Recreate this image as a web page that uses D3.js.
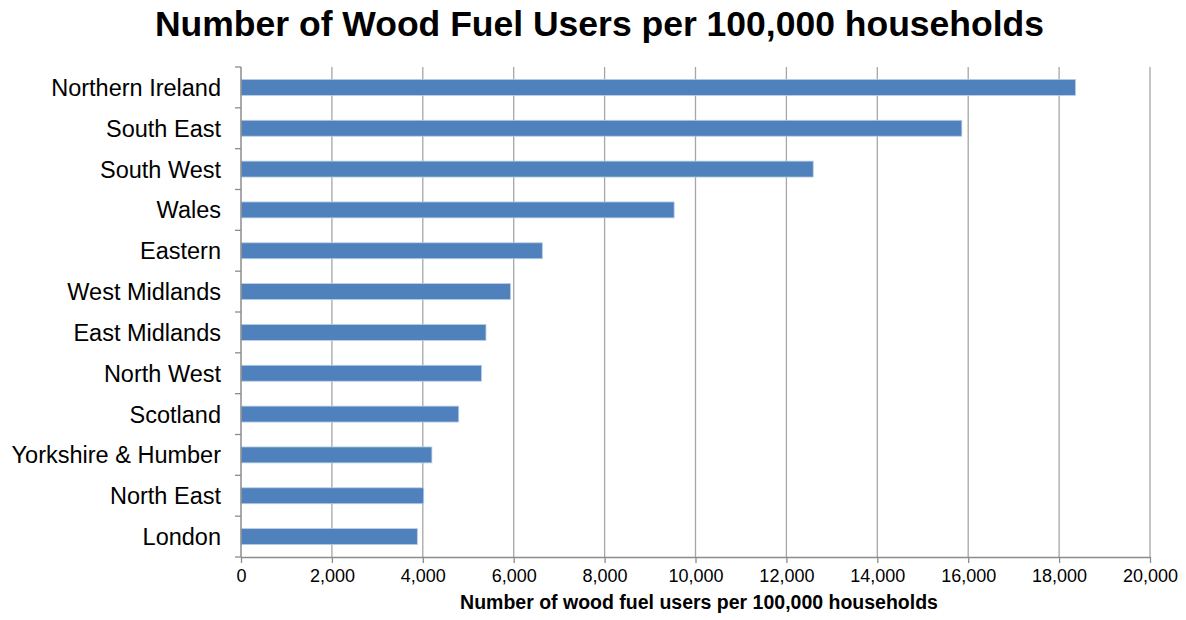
<!DOCTYPE html>
<html><head><meta charset="utf-8">
<script src="https://cdn.jsdelivr.net/npm/d3@7"></script>
<style>body{margin:0;background:#fff;} text{font-family:"Liberation Sans",Arial,sans-serif;}</style>
</head><body>
<svg id="chart" width="1186" height="620"></svg>
<script>
const categories = ["Northern Ireland","South East","South West","Wales","Eastern","West Midlands","East Midlands","North West","Scotland","Yorkshire & Humber","North East","London"];
const values = [18360,15860,12590,9530,6630,5930,5390,5290,4790,4200,4020,3880];
const tickValues = [0,2000,4000,6000,8000,10000,12000,14000,16000,18000,20000];
const title = "Number of Wood Fuel Users per 100,000 households";
const xTitle = "Number of wood fuel users per 100,000 households";

const svg = d3.select("#chart");
const m = {left:241, right:1150, top:67, bottom:557};
const x = d3.scaleLinear().domain([0,20000]).range([m.left,m.right]);
const y = d3.scaleBand().domain(categories).range([m.top,m.bottom]).paddingInner(0.61).paddingOuter(0.305);
const grey = "#8c8c8c";

svg.append("text").attr("x",599.5).attr("y",36).attr("text-anchor","middle")
  .style("font-size","35.5px").style("font-weight","bold").text(title);

// gridlines
svg.append("g").selectAll("line").data(tickValues.slice(1)).join("line")
  .attr("x1",d=>x(d)).attr("x2",d=>x(d)).attr("y1",m.top).attr("y2",m.bottom)
  .attr("stroke","#a6a6a6").attr("stroke-width",1.3);

// bars
svg.append("g").selectAll("rect").data(values).join("rect")
  .attr("x",x(0)).attr("y",(d,i)=>y(categories[i]))
  .attr("width",d=>x(d)-x(0)).attr("height",y.bandwidth())
  .attr("fill","#4f81bd").attr("stroke","#b9cde5").attr("stroke-width",0.8);

// x axis
const xa = svg.append("g").attr("transform",`translate(0,${m.bottom})`)
  .call(d3.axisBottom(x).tickValues(tickValues).tickFormat(d3.format(",")).tickSize(6).tickSizeOuter(0));
xa.select(".domain").attr("stroke",grey).attr("stroke-width",1.5);
xa.selectAll(".tick line").attr("stroke",grey).attr("stroke-width",1.3);
xa.selectAll(".tick text").attr("y",25).attr("dy",0).style("font-size","18px").attr("fill","#000");

// y axis
const boundaries = categories.map(c=>y(c)-y.step()*y.paddingInner()/2).concat([m.bottom]);
const yl = svg.append("g");
yl.append("line").attr("x1",m.left).attr("x2",m.left).attr("y1",m.top).attr("y2",m.bottom)
  .attr("stroke",grey).attr("stroke-width",1.5);
yl.selectAll("line.t").data(boundaries).join("line").attr("class","t")
  .attr("x1",m.left-6).attr("x2",m.left).attr("y1",d=>d).attr("y2",d=>d)
  .attr("stroke",grey).attr("stroke-width",1.3);
yl.selectAll("text").data(categories).join("text")
  .attr("x",221).attr("y",d=>y(d)+y.bandwidth()/2).attr("dy","0.36em")
  .attr("text-anchor","end").style("font-size","23.5px").text(d=>d);

svg.append("text").attr("x",699).attr("y",609).attr("text-anchor","middle")
  .style("font-size","19.5px").style("font-weight","bold").text(xTitle);
</script>
</body></html>
